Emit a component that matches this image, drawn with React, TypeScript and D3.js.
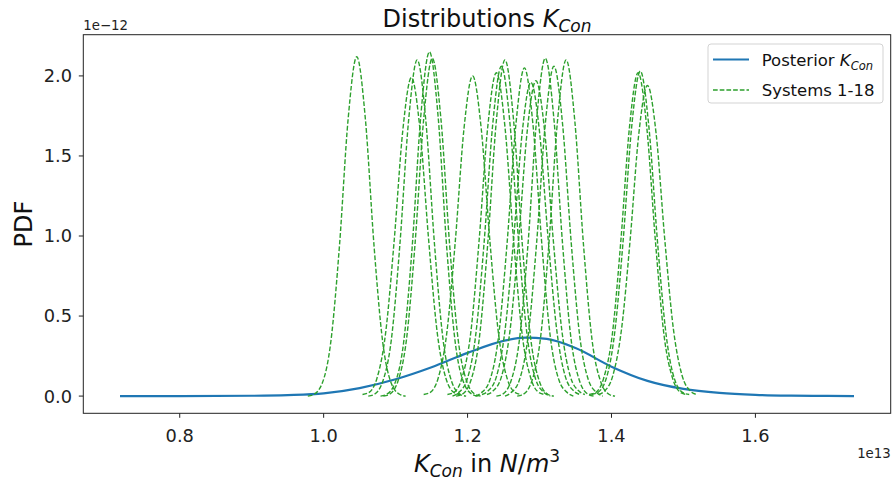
import * as d3 from "d3";

// x in units of 1e13 N/m^3, pdf in units of 1e-12
const xTicks = [0.8, 1.0, 1.2, 1.4, 1.6];
const yTicks = [0.0, 0.5, 1.0, 1.5, 2.0];

const posteriorX = [0.717, 0.8, 0.9, 0.95, 1.0, 1.05, 1.1, 1.15, 1.2, 1.25, 1.28, 1.31, 1.35, 1.4, 1.45, 1.5, 1.55, 1.6, 1.65, 1.7, 1.737];
const posteriorY = [0.0, 0.0, 0.002, 0.006, 0.017, 0.05, 0.105, 0.18, 0.27, 0.345, 0.365, 0.357, 0.3, 0.184, 0.095, 0.045, 0.02, 0.008, 0.003, 0.001, 0.0];

// each system curve is sampled at its centre plus these offsets
const systemOffsets = [-0.068, -0.06, -0.048, -0.036, -0.024, -0.012, 0, 0.012, 0.024, 0.036, 0.048, 0.06, 0.068];
const systemCenters = [1.046, 1.122, 1.13, 1.147, 1.151, 1.207, 1.24, 1.247, 1.252, 1.279, 1.288, 1.295, 1.308, 1.32, 1.337, 1.437, 1.44, 1.45];
const systemPdfs = [
  [0.0, 0.01, 0.08, 0.34, 0.94, 1.73, 2.12, 1.73, 0.94, 0.34, 0.08, 0.01, 0.0],
  [0.01, 0.02, 0.11, 0.39, 0.97, 1.66, 1.99, 1.66, 0.97, 0.39, 0.11, 0.02, 0.01],
  [0.0, 0.01, 0.09, 0.35, 0.95, 1.72, 2.1, 1.72, 0.95, 0.35, 0.09, 0.01, 0.0],
  [0.0, 0.01, 0.08, 0.33, 0.93, 1.75, 2.15, 1.75, 0.93, 0.33, 0.08, 0.01, 0.0],
  [0.0, 0.01, 0.09, 0.35, 0.95, 1.73, 2.11, 1.73, 0.95, 0.35, 0.09, 0.01, 0.0],
  [0.01, 0.02, 0.11, 0.39, 0.97, 1.67, 2.0, 1.67, 0.97, 0.39, 0.11, 0.02, 0.01],
  [0.01, 0.02, 0.11, 0.38, 0.97, 1.68, 2.02, 1.68, 0.97, 0.38, 0.11, 0.02, 0.01],
  [0.0, 0.02, 0.1, 0.37, 0.96, 1.7, 2.06, 1.7, 0.96, 0.37, 0.1, 0.02, 0.0],
  [0.0, 0.01, 0.09, 0.35, 0.95, 1.72, 2.1, 1.72, 0.95, 0.35, 0.09, 0.01, 0.0],
  [0.0, 0.02, 0.1, 0.37, 0.96, 1.69, 2.05, 1.69, 0.96, 0.37, 0.1, 0.02, 0.0],
  [0.01, 0.03, 0.12, 0.41, 0.98, 1.65, 1.96, 1.65, 0.98, 0.41, 0.12, 0.03, 0.01],
  [0.01, 0.03, 0.12, 0.41, 0.98, 1.66, 1.97, 1.66, 0.98, 0.41, 0.12, 0.03, 0.01],
  [0.0, 0.01, 0.09, 0.35, 0.95, 1.73, 2.11, 1.73, 0.95, 0.35, 0.09, 0.01, 0.0],
  [0.0, 0.02, 0.1, 0.37, 0.96, 1.7, 2.06, 1.7, 0.96, 0.37, 0.1, 0.02, 0.0],
  [0.0, 0.01, 0.09, 0.35, 0.95, 1.72, 2.1, 1.72, 0.95, 0.35, 0.09, 0.01, 0.0],
  [0.01, 0.02, 0.11, 0.38, 0.97, 1.68, 2.02, 1.68, 0.97, 0.38, 0.11, 0.02, 0.01],
  [0.01, 0.02, 0.1, 0.38, 0.96, 1.68, 2.03, 1.68, 0.96, 0.38, 0.1, 0.02, 0.01],
  [0.01, 0.03, 0.13, 0.42, 0.98, 1.64, 1.94, 1.64, 0.98, 0.42, 0.13, 0.03, 0.01]
];

const W = 892;
const H = 482;
const left = 83.3, right = 890.7, top = 34.7, bottom = 413.3;
const font = "DejaVu Sans, sans-serif";
const blue = "#1f77b4";
const green = "#2ca02c";

export default function App() {
  const xExt = d3.extent(posteriorX) as [number, number];
  const xPad = (xExt[1] - xExt[0]) * 0.05;
  const yMax = d3.max(systemPdfs.flat()) as number;
  const yPad = yMax * 0.05;

  const x = d3.scaleLinear().domain([xExt[0] - xPad, xExt[1] + xPad]).range([left, right]);
  const y = d3.scaleLinear().domain([-yPad, yMax + yPad]).range([bottom, top]);

  const line = d3.line<[number, number]>()
    .x((d) => x(d[0]))
    .y((d) => y(d[1]))
    .curve(d3.curveMonotoneX);

  const posterior = line(posteriorX.map((v, i) => [v, posteriorY[i]]));
  const systems = systemCenters.map((c, k) =>
    line(systemOffsets.map((o, i) => [c + o, systemPdfs[k][i]]))
  );

  const cx = (left + right) / 2;

  return (
    <div style={{ position: "absolute", left: 0, top: 0 }}>
      <svg width={W} height={H} style={{ display: "block", background: "#fff" }} fontFamily={font}>
        <defs>
          <clipPath id="plot">
            <rect x={left} y={top} width={right - left} height={bottom - top} />
          </clipPath>
        </defs>

        <g clipPath="url(#plot)">
          <path d={posterior ?? ""} fill="none" stroke={blue} strokeWidth={2.2} />
          {systems.map((d, i) => (
            <path key={i} d={d ?? ""} fill="none" stroke={green} strokeWidth={1.4} strokeDasharray="4.7,2" />
          ))}
        </g>

        <rect x={left} y={top} width={right - left} height={bottom - top} fill="none" stroke="#222" strokeWidth={1} />

        {xTicks.map((t) => (
          <g key={t} transform={`translate(${x(t)},0)`}>
            <line y1={bottom} y2={bottom + 4.5} stroke="#222" />
            <text y={442} textAnchor="middle" fontSize={17.8} fill="#222">{t.toFixed(1)}</text>
          </g>
        ))}
        {yTicks.map((t) => (
          <g key={t} transform={`translate(0,${y(t)})`}>
            <line x1={left - 4.5} x2={left} stroke="#222" />
            <text x={72} dy="0.36em" textAnchor="end" fontSize={17.8} fill="#222">{t.toFixed(1)}</text>
          </g>
        ))}

        <text x={left} y={30} fontSize={13.3} fill="#222">1e−12</text>
        <text x={right} y={458} textAnchor="end" fontSize={13.3} fill="#222">1e13</text>

        <text x={cx} y={27} textAnchor="middle" fontSize={24} fill="#111">
          <tspan>Distributions </tspan>
          <tspan fontStyle="italic">K</tspan>
          <tspan fontStyle="italic" fontSize={17} dy={5}>Con</tspan>
        </text>

        <text x={cx} y={472} textAnchor="middle" fontSize={24} fill="#111">
          <tspan fontStyle="italic">K</tspan>
          <tspan fontStyle="italic" fontSize={17} dy={5}>Con</tspan>
          <tspan dy={-5}> in </tspan>
          <tspan fontStyle="italic">N</tspan>
          <tspan>/</tspan>
          <tspan fontStyle="italic">m</tspan>
          <tspan fontSize={17} dy={-10}>3</tspan>
        </text>

        <text transform={`translate(32,${(top + bottom) / 2}) rotate(-90)`} textAnchor="middle" fontSize={24} fill="#111">PDF</text>

        <g>
          <rect x={708} y={44} width={175} height={59} rx={3} fill="#fff" fillOpacity={0.8} stroke="#d3d3d3" />
          <line x1={713} x2={749} y1={59.5} y2={59.5} stroke={blue} strokeWidth={2.2} />
          <line x1={713} x2={749} y1={90} y2={90} stroke={green} strokeWidth={1.4} strokeDasharray="4.7,2" />
          <text x={761.7} y={66} fontSize={16.5} fill="#111">
            <tspan>Posterior </tspan>
            <tspan fontStyle="italic">K</tspan>
            <tspan fontStyle="italic" fontSize={11.5} dy={3.5}>Con</tspan>
          </text>
          <text x={761.7} y={96} fontSize={16.5} fill="#111">Systems 1-18</text>
        </g>
      </svg>
    </div>
  );
}
